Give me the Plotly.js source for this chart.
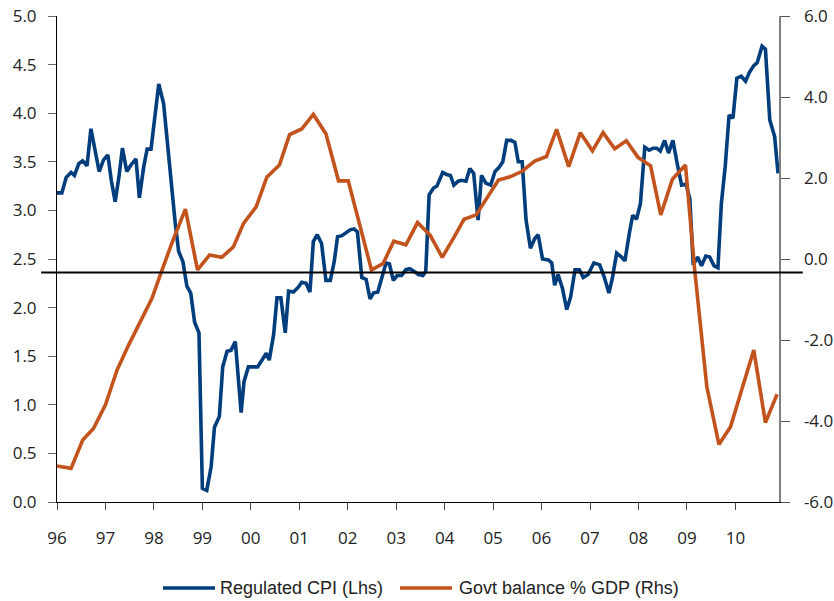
<!DOCTYPE html>
<html>
<head>
<meta charset="utf-8">
<script src="https://cdn.plot.ly/plotly-3.0.1.min.js"></script>
<style>
  html, body { margin: 0; padding: 0; background: #ffffff; }
  #chart { width: 834px; height: 601px; }
</style>
</head>
<body>
<div id="chart"></div>
<script>
// Regulated CPI (% y/y, left axis) — time in decimal years
const cpiT = [
  1996.00, 1996.10, 1996.19, 1996.29, 1996.36, 1996.45, 1996.53, 1996.62, 1996.70, 1996.79,
  1996.87, 1996.96, 1997.05, 1997.12, 1997.20, 1997.28, 1997.35, 1997.44, 1997.53, 1997.63,
  1997.70, 1997.79, 1997.86, 1997.94, 1998.03, 1998.10, 1998.20, 1998.27, 1998.35, 1998.44,
  1998.51, 1998.60, 1998.68, 1998.76, 1998.84, 1998.93, 1999.00, 1999.09, 1999.18, 1999.25,
  1999.35, 1999.42, 1999.51, 1999.59, 1999.68, 1999.80, 1999.86, 1999.95, 2000.14, 2000.24,
  2000.32, 2000.38, 2000.47, 2000.54, 2000.62, 2000.71, 2000.78, 2000.88, 2000.98, 2001.05,
  2001.14, 2001.22, 2001.29, 2001.37, 2001.46, 2001.55, 2001.64, 2001.72, 2001.79, 2001.88,
  2001.96, 2002.05, 2002.13, 2002.20, 2002.29, 2002.38, 2002.46, 2002.53, 2002.62, 2002.71,
  2002.79, 2002.86, 2002.94, 2003.02, 2003.11, 2003.20, 2003.28, 2003.35, 2003.46, 2003.55,
  2003.61, 2003.68, 2003.77, 2003.84, 2003.90, 2003.96, 2004.04, 2004.12, 2004.19, 2004.28,
  2004.35, 2004.44, 2004.52, 2004.60, 2004.69, 2004.76, 2004.85, 2004.95, 2005.04, 2005.12,
  2005.20, 2005.28, 2005.37, 2005.45, 2005.52, 2005.60, 2005.68, 2005.77, 2005.86, 2005.93,
  2006.02, 2006.14, 2006.21, 2006.27, 2006.34, 2006.43, 2006.52, 2006.60, 2006.69, 2006.78,
  2006.86, 2006.96, 2007.08, 2007.20, 2007.29, 2007.39, 2007.46, 2007.55, 2007.65, 2007.72,
  2007.81, 2007.88, 2007.96, 2008.04, 2008.13, 2008.22, 2008.30, 2008.38, 2008.45, 2008.54,
  2008.62, 2008.71, 2008.80, 2008.89, 2008.98, 2009.06, 2009.13, 2009.22, 2009.30, 2009.39,
  2009.47, 2009.56, 2009.64, 2009.71, 2009.79, 2009.87, 2009.95, 2010.03, 2010.12, 2010.21,
  2010.29, 2010.38, 2010.45, 2010.55, 2010.62, 2010.71, 2010.81, 2010.88
];
const cpiVal = [
  3.18, 3.18, 3.34, 3.39, 3.36, 3.48, 3.51, 3.46, 3.84, 3.59,
  3.40, 3.52, 3.57, 3.31, 3.09, 3.35, 3.64, 3.40, 3.47, 3.53,
  3.13, 3.45, 3.63, 3.63, 4.03, 4.30, 4.10, 3.72, 3.28, 2.87,
  2.58, 2.47, 2.22, 2.15, 1.85, 1.74, 0.14, 0.12, 0.36, 0.77,
  0.88, 1.39, 1.55, 1.56, 1.65, 0.92, 1.24, 1.39, 1.39, 1.46,
  1.53, 1.46, 1.72, 2.10, 2.10, 1.74, 2.17, 2.16, 2.21, 2.26,
  2.25, 2.16, 2.68, 2.75, 2.66, 2.28, 2.28, 2.47, 2.73, 2.74,
  2.77, 2.80, 2.81, 2.78, 2.31, 2.29, 2.09, 2.15, 2.16, 2.32,
  2.46, 2.45, 2.28, 2.33, 2.33, 2.39, 2.40, 2.38, 2.34, 2.33,
  2.37, 3.16, 3.23, 3.25, 3.33, 3.39, 3.37, 3.36, 3.26, 3.30,
  3.31, 3.30, 3.43, 3.38, 2.90, 3.36, 3.28, 3.26, 3.40, 3.44,
  3.50, 3.72, 3.72, 3.70, 3.50, 3.50, 2.90, 2.61, 2.71, 2.75,
  2.50, 2.49, 2.46, 2.23, 2.34, 2.20, 1.98, 2.11, 2.39, 2.39,
  2.31, 2.34, 2.46, 2.44, 2.32, 2.15, 2.30, 2.56, 2.52, 2.48,
  2.76, 2.95, 2.91, 3.07, 3.65, 3.62, 3.64, 3.64, 3.61, 3.72,
  3.59, 3.72, 3.48, 3.26, 3.27, 3.12, 2.44, 2.52, 2.43, 2.53,
  2.52, 2.43, 2.41, 3.07, 3.45, 3.98, 3.95, 4.36, 4.38, 4.33,
  4.42, 4.49, 4.52, 4.69, 4.66, 3.93, 3.76, 3.38
];

// Government balance (% of GDP, right axis), quarterly
const govT = [
  1996.00, 1996.29, 1996.53, 1996.75, 1997.00, 1997.24, 1997.48, 1997.72, 1997.96, 1998.13,
  1998.37, 1998.65, 1998.90, 1999.15, 1999.40, 1999.64, 1999.85, 2000.11, 2000.33, 2000.59,
  2000.80, 2001.05, 2001.29, 2001.55, 2001.81, 2002.01, 2002.25, 2002.49, 2002.73, 2002.95,
  2003.20, 2003.44, 2003.70, 2003.95, 2004.18, 2004.40, 2004.65, 2004.88, 2005.11, 2005.35,
  2005.59, 2005.86, 2006.10, 2006.31, 2006.56, 2006.80, 2007.05, 2007.27, 2007.51, 2007.75,
  2007.99, 2008.25, 2008.46, 2008.70, 2008.97, 2009.16, 2009.41, 2009.66, 2009.90, 2010.14,
  2010.38, 2010.62, 2010.86
];
const govVal = [
  -5.11, -5.17, -4.47, -4.19, -3.60, -2.74, -2.12, -1.55, -0.97, -0.40,
   0.39,  1.23, -0.27,  0.10,  0.04,  0.30,  0.88,  1.29,  2.02,  2.32,
   3.07,  3.21,  3.57,  3.09,  1.93,  1.93,  0.80, -0.27, -0.11,  0.44,
   0.35,  0.90,  0.59,  0.04,  0.51,  0.98,  1.09,  1.54,  1.95,  2.03,
   2.16,  2.42,  2.53,  3.20,  2.28,  3.12,  2.67,  3.12,  2.72,  2.92,
   2.51,  2.30,  1.09,  1.97,  2.32, -0.27, -3.15, -4.58, -4.14, -3.19,
  -2.25, -4.04, -3.34
];

// Axis ticks
const yearTicks = [1996, 1997, 1998, 1999, 2000, 2001, 2002, 2003, 2004, 2005, 2006, 2007, 2008, 2009, 2010];
const yearLabels = ['96', '97', '98', '99', '00', '01', '02', '03', '04', '05', '06', '07', '08', '09', '10'];
const rhsTicks = [6, 4, 2, 0, -2, -4, -6];

// Reference level drawn across the chart (left-axis units)
const refLevel = 2.36;

const seriesNames = ['Regulated CPI (Lhs)', 'Govt balance % GDP (Rhs)'];
const BLUE = '#003d7d';
const ORANGE = '#c2531d';
const tickFont = { family: 'Open Sans, Liberation Sans, sans-serif', size: 17, color: '#222222' };
const legendFont = { family: 'Liberation Sans, Arial, sans-serif', size: 18, color: '#222222' };

const traces = [
  {
    x: cpiT, y: cpiVal, name: seriesNames[0], type: 'scatter', mode: 'lines',
    line: { color: BLUE, width: 3.6, shape: 'linear' }, yaxis: 'y', hoverinfo: 'x+y'
  },
  {
    x: govT, y: govVal, name: seriesNames[1], type: 'scatter', mode: 'lines',
    line: { color: ORANGE, width: 3.6, shape: 'linear' }, yaxis: 'y2', hoverinfo: 'x+y'
  }
];

// Hand-placed legend under the plot: line swatches plus labels
const legendY = -0.177;
const legendItems = [
  { x0: 0.1468, x1: 0.2188, tx: 0.2230, color: BLUE, text: seriesNames[0] },
  { x0: 0.4751, x1: 0.5471, tx: 0.5540, color: ORANGE, text: seriesNames[1] }
];

const shapes = [
  {
    type: 'line', xref: 'paper', yref: 'y', x0: -0.022, x1: 1.033, y0: refLevel, y1: refLevel,
    line: { color: '#000000', width: 2 }
  }
].concat(legendItems.map(it => ({
  type: 'line', xref: 'paper', yref: 'paper', x0: it.x0, x1: it.x1, y0: legendY, y1: legendY,
  line: { color: it.color, width: 3.6 }
})));

const annotations = legendItems.map(it => ({
  xref: 'paper', yref: 'paper', x: it.tx, y: legendY, xanchor: 'left', yanchor: 'middle',
  text: it.text, showarrow: false, font: legendFont
}));

const layout = {
  width: 834,
  height: 601,
  margin: { l: 57, r: 55, t: 16, b: 99 },
  paper_bgcolor: '#ffffff',
  plot_bgcolor: '#ffffff',
  showlegend: false,
  xaxis: {
    type: 'linear',
    range: [1996, 2010.9],
    tickmode: 'array',
    tickvals: yearTicks,
    ticktext: yearLabels,
    ticks: 'outside', ticklen: 7, tickwidth: 1, tickcolor: '#444444',
    ticklabelstandoff: 14,
    showline: true, linecolor: '#000000', linewidth: 1,
    showgrid: false, zeroline: false,
    tickfont: tickFont
  },
  yaxis: {
    range: [0, 5],
    dtick: 0.5, tick0: 0,
    tickformat: '.1f',
    ticks: 'outside', ticklen: 8, tickwidth: 1, tickcolor: '#666666',
    ticklabelstandoff: 8,
    showline: true, linecolor: '#000000', linewidth: 1,
    showgrid: false, zeroline: false,
    tickfont: tickFont
  },
  yaxis2: {
    overlaying: 'y', side: 'right',
    range: [-6, 6],
    tickmode: 'array',
    tickvals: rhsTicks,
    ticktext: rhsTicks.map(v => v.toFixed(1)),
    ticks: 'outside', ticklen: 9, tickwidth: 1, tickcolor: '#555555',
    ticklabelstandoff: 11,
    showline: true, linecolor: '#808080', linewidth: 1.5,
    showgrid: false, zeroline: false,
    tickfont: tickFont
  },
  shapes: shapes,
  annotations: annotations
};

Plotly.newPlot('chart', traces, layout, { displayModeBar: false, staticPlot: true });
</script>
</body>
</html>
